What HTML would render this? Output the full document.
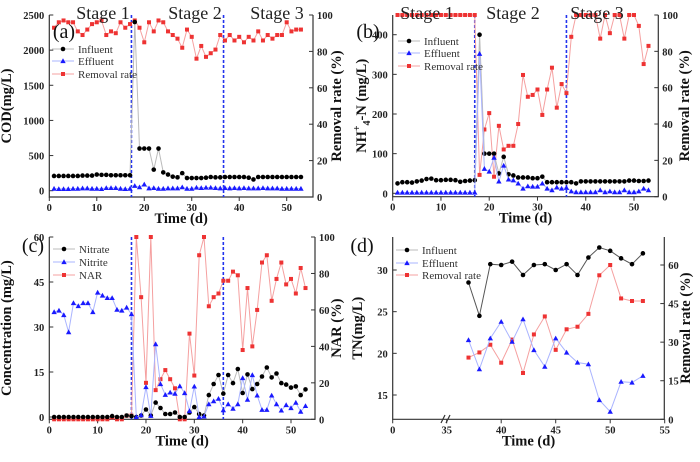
<!DOCTYPE html>
<html><head><meta charset="utf-8"><style>
body{margin:0;background:#fff;}
svg{display:block;font-family:"Liberation Serif","DejaVu Serif",serif;}
text{font-family:"Liberation Serif","DejaVu Serif",serif;}
.tk{font-size:10.5px;font-weight:bold;fill:#222;}
.at{font-size:14.5px;font-weight:bold;fill:#111;}
.lg{font-size:11px;fill:#333;}
.st{font-size:18px;fill:#222;}
.pl{font-size:20px;fill:#111;}
</style></head><body>
<svg id="chart" width="700" height="462" viewBox="0 0 700 462" font-family="Liberation Serif, DejaVu Serif, serif"></svg>
<script>
const days=[1,2,3,4,5,6,7,8,9,10,11,12,13,14,15,16,17,18,19,20,21,22,23,24,25,26,27,28,29,30,31,32,33,34,35,36,37,38,39,40,41,42,43,44,45,46,47,48,49,50,51,52,53];
const codInf=[210,210,210,210,210,210,215,215,215,230,225,225,220,220,220,220,220,2400,600,600,600,300,600,260,230,200,190,250,180,180,180,180,185,195,190,190,195,195,195,195,195,185,160,195,195,195,195,195,195,195,195,195,195];
const codEff=[30,25,25,25,30,30,35,35,30,30,25,40,40,40,30,25,30,70,50,90,35,40,30,30,35,35,35,50,30,30,45,40,45,45,40,35,40,35,40,35,40,35,35,35,40,35,35,35,30,30,30,30,30];
const codRem=[93,96,97,96,96,91,89,92,95,96,97,89,91,90,96,93,95,97,93,85,96,91,97,96,91,89,87,82,92,88,76,83,77,79,81,89,86,89,86,88,85,88,86,91,86,89,87,89,89,96,91,92,92];
const nhInf=[25,28,28,27,30,32,36,37,33,33,34,34,33,29,31,32,33,400,100,100,100,50,92,48,45,40,40,40,38,38,42,28,28,28,28,28,28,25,30,30,30,30,30,30,30,30,30,30,32,32,31,31,32];
const nhEff=[2,2,2,2,2,2,2,2,2,2,2,2,2,2,2,2,2,352,62,55,90,30,70,35,33,25,12,18,17,17,25,12,8,15,12,14,5,3,3,3,3,3,8,3,5,3,3,8,3,3,5,12,8];
const nhRem=[100,100,100,100,100,100,100,100,100,100,100,100,100,100,100,100,100,12,37,46,11,39,26,28,28,40,67,55,56,59,45,59,71,49,62,57,88,100,100,100,100,100,87,100,90,100,100,87,100,100,94,73,83];
const nitrate=[0,0,0,0,0,0,0,0,0,0,0,0,0.3,0,0,0.5,0.3,0,0.5,2.5,0.5,4.8,3,1,1,1.5,0,0,1.5,3.3,1,0.5,7.3,11,14,7.8,14,11.3,16,8,14.2,9.3,11,13.5,16.5,13.2,14.5,11.3,10.8,9.8,10.2,7.3,9.2];
const nitrite=[35,35.5,34,28.3,38,37,38,38,35,41.5,40.5,39.7,39.7,35.8,35.5,36.5,34.3,0,0.6,10,0.4,24.3,11,7.4,8.2,7.8,10.3,8,2,10.2,0,0.2,4.3,5.3,6.1,2.3,4.3,2.8,4.3,13,5.8,14,7.2,2.4,2.4,7.2,4.3,2.2,4,3,4.8,1.8,3.7];
const nar=[0,0,0,0,0,0,0,0,0,0,0,0,1,0,0,2,2,100,67,20,100,16,22,27,22,17,0,0,47,24,90,100,62,67,69,76,76,81,79,38,72,40,60,86,90,65,77,86,74,77,69,83,72];
const tnDays=[37,38,39,40,41,42,43,44,45,46,47,48,49,50,51,52,53];
const tnInf=[28.5,24.5,30.7,30.6,31,29.4,30.6,30.7,30,30.7,29.4,31.5,32.7,32.3,31.4,30.7,32];
const tnEff=[21.6,18.1,21.8,23.8,21.4,24.1,20.4,18.4,21.8,20.1,18.9,18.7,14.4,13,16.6,16.5,17.3];
const tnRem=[24,26,29,22,31,18,33,40,27,35,36,41,56,60,47,46,46];
const ticksA=[0,500,1000,1500,2000,2500], ticksB=[0,100,200,300,400], ticksC=[0,15,30,45,60], ticksD=[15,20,25,30];
const ticksR=[0,20,40,60,80,100], ticksRD=[0,15,30,45,60], ticksX=[0,10,20,30,40,50], ticksXD=[0,35,40,45,50,55];
const stageBounds=[17,36];

const svg=document.getElementById('chart');
const NS='http://www.w3.org/2000/svg';
const FF='Liberation Serif, DejaVu Serif, serif';
function el(tag,attrs,parent,text){const e=document.createElementNS(NS,tag);for(const k in attrs)e.setAttribute(k,attrs[k]);if(tag==='text')e.setAttribute('font-family',FF);if(text!==undefined)e.textContent=text;(parent||svg).appendChild(e);return e;}
function lin(d0,d1,r0,r1){return v=>r0+(v-d0)*(r1-r0)/(d1-d0);}

function marker(g,type,x,y,c){
  let m;
  if(type==='c'){m=el('circle',{cx:x,cy:y,r:2.3,fill:c},g);}
  else if(type==='t'){m=el('path',{d:`M${x},${y-2.7}L${x+2.7},${y+2.1}L${x-2.7},${y+2.1}Z`,fill:c},g);}
  else {m=el('rect',{x:x-2,y:y-2,width:4,height:4,fill:c},g);}
  
  
}
function series(name,xs,ys,xf,yf,c,lc,type){
  const g=el('g',{},svg);
  
  
  const pts=xs.map((d,i)=>xf(d).toFixed(1)+','+yf(ys[i]).toFixed(1)).join(' ');
  el('polyline',{points:pts,fill:'none',stroke:lc,'stroke-width':1},g);
  xs.forEach((d,i)=>marker(g,type,xf(d),yf(ys[i]),c));
}
function frame(name,x0,x1,y0,y1,xf,xt,yf,yt,yrf,yrt,ylab,yrlab,lblX,rlblX){
  const g=el('g',{},svg);
  
  
  el('path',{d:`M${x0},${y0}V${y1}H${x1}V${y0}`,fill:'none',stroke:'#333','stroke-width':1.2},g);
  xt.forEach(v=>{const x=xf(v);el('line',{x1:x,x2:x,y1:y1,y2:y1+4,stroke:'#333'},g);
    const t=el('text',{x:x,y:y1+14,'text-anchor':'middle',class:'tk'},g,v);
    });
  yt.forEach(v=>{const y=yf(v);el('line',{x1:x0,x2:x0+4,y1:y,y2:y,stroke:'#333'},g);
    const t=el('text',{x:x0-5,y:y+4,'text-anchor':'end',class:'tk'},g,v);
    });
  yrt.forEach(v=>{const y=yrf(v);el('line',{x1:x1-4,x2:x1,y1:y,y2:y,stroke:'#333'},g);
    const t=el('text',{x:x1+4,y:y+4,class:'tk'},g,v);
    });
  const t1=el('text',{x:(x0+x1)/2,y:y1+26,'text-anchor':'middle',class:'at'},g,'Time (d)');
  
  const cy=(y0+y1)/2;
  const t2=el('text',{x:lblX,y:cy,'text-anchor':'middle',class:'at',transform:`rotate(-90 ${lblX} ${cy})`},g);
  t2.innerHTML=ylab;
  
  const t3=el('text',{x:rlblX,y:cy,'text-anchor':'middle',class:'at',transform:`rotate(-90 ${rlblX} ${cy})`},g,yrlab);
  
}
function vlines(xf,y0,y1,bounds){bounds.forEach(b=>{const l=el('line',{x1:xf(b),x2:xf(b),y1:y0,y2:y1,stroke:'#2233ee','stroke-width':1.6,'stroke-dasharray':'3,2'});
  });}
function legend(x,ys,labels,cols,lcs,types){labels.forEach((lab,i)=>{
  const g=el('g',{},svg);
  
  
  el('line',{x1:x,x2:x+22,y1:ys[i],y2:ys[i],stroke:lcs[i]},g);
  marker(g,types[i],x+11,ys[i],cols[i]);
  el('text',{x:x+26,y:ys[i]+4,class:'lg'},g,lab);});}
function txt(x,y,cls,s,name){const t=el('text',{x:x,y:y,class:cls,'text-anchor':'middle'},svg,s);
  }

const GR='#bbb', LB='#aab4ff', LR='#f5a0a0', RED='#ee3333', BLU='#1a1aff', BLK='#000';

// Panel a
{const xf=lin(0,50,49.3,286.7), yf=lin(0,2500,190.7,15), yr=lin(0,100,197,15);
 frame('panel-a',49.3,313,15,197,xf,ticksX,yf,ticksA,yr,ticksR,'COD(mg/L)','Removal rate (%)',11,341);
 vlines(xf,15,197,[17.3,36.7]);
 series('cod-removal',days,codRem,xf,yr,RED,LR,'s');
 series('cod-influent',days,codInf,xf,yf,BLK,GR,'c');
 series('cod-effluent',days,codEff,xf,yf,BLU,LB,'t');
 legend(52,[49,61,74],['Influent','Effluent','Removal rate'],[BLK,BLU,RED],[GR,LB,LR],['c','t','s']);
 txt(103,19,'st','Stage 1','stage-label');txt(195,19,'st','Stage 2','stage-label');txt(277,19,'st','Stage 3','stage-label');
 txt(64,38,'pl','(a)','panel-label');}
// Panel b
{const xf=lin(0,50,392.7,634), yf=lin(0,400,193.3,34.7), yr=lin(0,100,196.7,15);
 frame('panel-b',392.7,658.3,15,196.7,xf,ticksX,yf,ticksB,yr,ticksR,'NH<tspan font-size="10" dy="-6">+</tspan><tspan font-size="10" dy="10">4</tspan><tspan dy="-4">-N (mg/L)</tspan>','Removal rate (%)',366,689);
 vlines(xf,15,196.7,stageBounds);
 series('nh4-removal',days,nhRem,xf,yr,RED,LR,'s');
 series('nh4-influent',days,nhInf,xf,yf,BLK,GR,'c');
 series('nh4-effluent',days,nhEff,xf,yf,BLU,LB,'t');
 legend(398,[41,53,66],['Influent','Effluent','Removal rate'],[BLK,BLU,RED],[GR,LB,LR],['c','t','s']);
 txt(427,19,'st','Stage 1','stage-label');txt(513,19,'st','Stage 2','stage-label');txt(597,19,'st','Stage 3','stage-label');
 txt(368,38,'pl','(b)','panel-label');}
// Panel c
{const xf=lin(0,50,49.3,291), yf=lin(0,60,417,237), yr=lin(0,100,419.3,237);
 frame('panel-c',49.3,315,237,419.3,xf,ticksX,yf,ticksC,yr,ticksR,'Concentration (mg/L)','NAR (%)',11,341);
 vlines(xf,237,419.3,stageBounds);
 series('nar',days,nar,xf,yr,RED,LR,'s');
 series('nitrate',days,nitrate,xf,yf,BLK,GR,'c');
 series('nitrite',days,nitrite,xf,yf,BLU,LB,'t');
 legend(53,[249,262,275],['Nitrate','Nitrite','NAR'],[BLK,BLU,RED],[GR,LB,LR],['c','t','s']);
 txt(33,252,'pl','(c)','panel-label');}
// Panel d
{const xf=v=>v<=35?392.7+v*(446.7-392.7)/35:446.7+(v-35)*10.9, yf=lin(15,30,395,270), yr=lin(0,60,419.3,265);
 frame('panel-d',392.7,664.3,237,419.3,xf,ticksXD,yf,ticksD,yr,ticksRD,'TN(mg/L)','Removal  rate (%)',362,690);
 const bk=el('path',{d:'M441,423L445,415M446,423L450,415',stroke:'#333','stroke-width':1.2,fill:'none'});
 
 series('tn-removal',tnDays,tnRem,xf,yr,RED,LR,'s');
 series('tn-influent',tnDays,tnInf,xf,yf,BLK,'#555','c');
 series('tn-effluent',tnDays,tnEff,xf,yf,BLU,LB,'t');
 legend(396,[250,263,275],['Influent','Effluent','Removal  rate'],[BLK,BLU,RED],[GR,LB,LR],['c','t','s']);
 txt(362,252,'pl','(d)','panel-label');}
</script>
</body></html>
